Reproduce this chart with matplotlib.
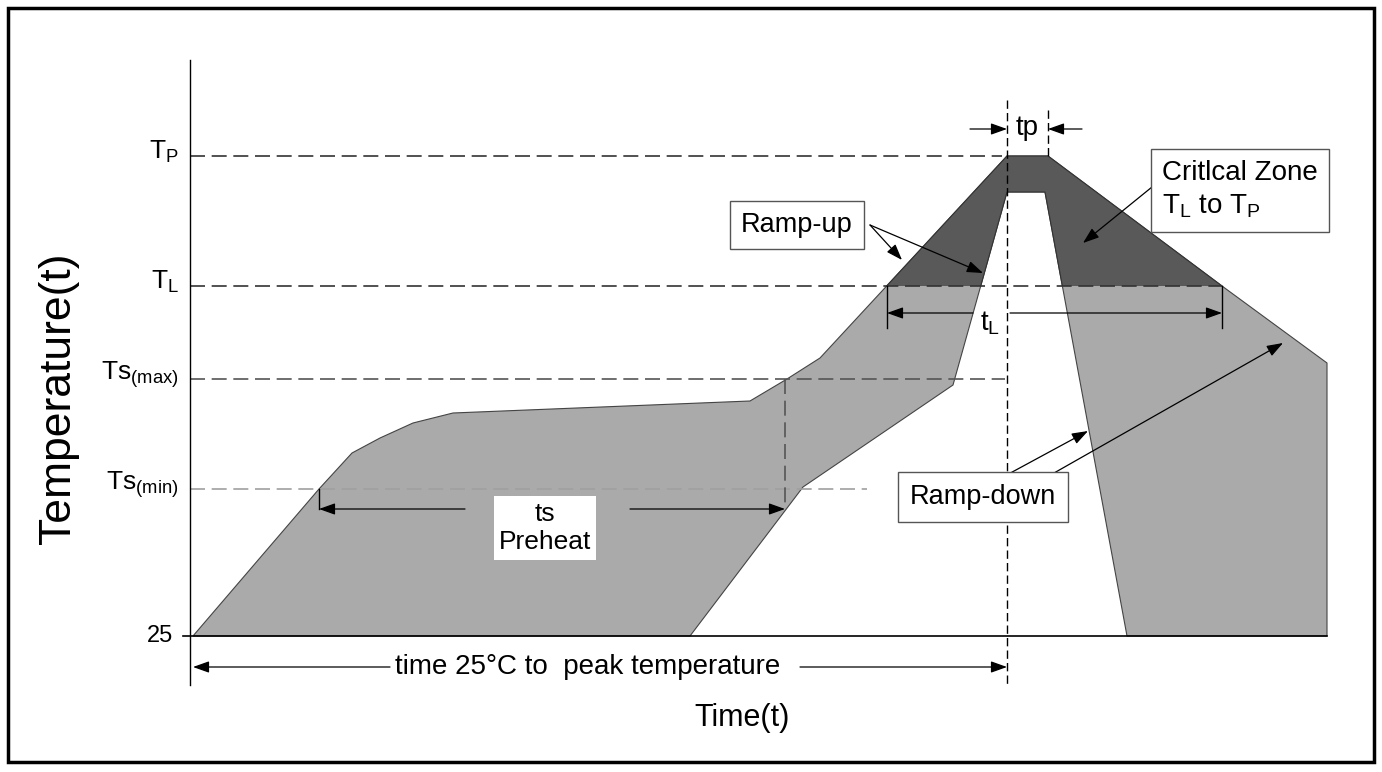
"""
Reflow soldering profile sketch (temperature vs time), schematic units.
"""

import numpy as np
import matplotlib.pyplot as plt
from matplotlib.patches import Polygon, Rectangle

plt.rcParams['font.family'] = ['Liberation Sans', 'DejaVu Sans']
plt.rcParams['mathtext.fontset'] = 'custom'
plt.rcParams['mathtext.rm'] = 'Liberation Sans'
plt.rcParams['mathtext.it'] = 'Liberation Sans:italic'
plt.rcParams['mathtext.sf'] = 'Liberation Sans'

# schematic units: time measured from the temperature axis, temperature above the 25 line
level_names = ['25', 'Ts$_{\\mathrm{(min)}}$', 'Ts$_{\\mathrm{(max)}}$', 'T$_{\\mathrm{L}}$', 'T$_{\\mathrm{P}}$']
level_values = [0, 147, 257, 350, 480]
level_line_end = [None, 677, 815, 1032, 812]
level_line_color = [None, '#a0a0a0', '#555555', '#333333', '#333333']

# outer (hot side) edge of the profile band, left to right
upper_time = [3, 129, 162, 190, 223, 263, 560, 597, 630, 817, 858, 1032, 1137, 1137]
upper_temp = [0, 147, 183, 198, 213, 223, 235, 257, 278, 480, 480, 350, 273, 0]
# inner (cool side) edge, right to left
lower_time = [937, 855, 817, 763, 613, 500]
lower_temp = [0, 444, 444, 251, 149, 0]

light_grey = '#aaaaaa'
dark_grey = '#595959'
dash = (0, (9, 4))

fig = plt.figure(figsize=(13.82, 7.72), dpi=100)
ax = fig.add_axes([0, 0, 1, 1])
ax.set_xlim(-190, 1192)
ax.set_ylim(-136, 636)
ax.axis('off')

# profile band
band = np.column_stack([upper_time + lower_time, upper_temp + lower_temp])
ax.add_patch(Polygon(band, closed=True, fc=light_grey, ec='#444444', lw=0.8, zorder=2))
# critical zone = part of band above T_L
crit = Polygon(band, closed=True, fc=dark_grey, ec='#333333', lw=0.8, zorder=3)
ax.add_patch(crit)
clip = Rectangle((-200, level_values[3]), 1500, 400, transform=ax.transData)
crit.set_clip_path(clip)

# level lines and labels
for name, val, xend, col in zip(level_names, level_values, level_line_end, level_line_color):
    if xend is not None:
        ax.plot([0, xend], [val, val], color=col, lw=1.2, linestyle=dash, zorder=4)
        ax.text(-11, val + 4, name, ha='right', va='center', fontsize=19)
    else:
        ax.text(-17, val, name, ha='right', va='center', fontsize=17)

# axes lines
ax.plot([0, 0], [-49, 576], color='black', lw=1, zorder=5)
ax.plot([-7, 1137], [0, 0], color='black', lw=1.2, zorder=5)

# vertical guide lines
ax.plot([817, 817], [536, -49], color='black', lw=1, linestyle=(0, (6, 3)), zorder=5)
ax.plot([858, 858], [526, 480], color='black', lw=1, linestyle=(0, (6, 3)), zorder=5)
ax.plot([595, 595], [257, 127], color='#555555', lw=1.2, linestyle=dash, zorder=5)
ax.plot([129, 129], [147, 127], color='black', lw=1, zorder=5)
ax.plot([697, 697], [350, 308], color='black', lw=1, zorder=5)
ax.plot([1032, 1032], [350, 308], color='black', lw=1, zorder=5)


def arrow(x0, y0, x1, y1):
    ax.annotate('', xy=(x1, y1), xytext=(x0, y0),
                arrowprops=dict(arrowstyle='-|>,head_length=0.7,head_width=0.25',
                                color='black', lw=0.9, shrinkA=0, shrinkB=0,
                                mutation_scale=14), zorder=6)


# tp
arrow(780, 507, 817, 507)
arrow(892, 507, 858, 507)
ax.text(837, 508, 'tp', ha='center', va='center', fontsize=20)
# tL
arrow(783, 323, 697, 323)
arrow(820, 323, 1032, 323)
ax.text(800, 313, 't$_{\\mathrm{L}}$', ha='center', va='center', fontsize=20)
# ts preheat
arrow(275, 127, 129, 127)
arrow(440, 127, 595, 127)
ax.text(355, 108, 'ts\nPreheat', ha='center', va='center', fontsize=19, linespacing=1.25,
        bbox=dict(boxstyle='square,pad=0.2', fc='white', ec='none'), zorder=7)
# 25C to peak
arrow(200, -31, 3, -31)
arrow(610, -31, 817, -31)
ax.text(398, -31, 'time 25°C to  peak temperature', ha='center', va='center', fontsize=20)

# callouts
box = dict(boxstyle='square,pad=0.4', fc='white', ec='#555555', lw=1)
ax.text(607, 411, 'Ramp-up', ha='center', va='center', fontsize=19.5, bbox=box, zorder=7)
arrow(680, 411, 712, 376)
arrow(680, 411, 793, 363)

ax.text(972, 446, 'Critlcal Zone\nT$_{\\mathrm{L}}$ to T$_{\\mathrm{P}}$', ha='left', va='center',
        fontsize=20, linespacing=1.35,
        bbox=dict(boxstyle='square,pad=0.4', fc='white', ec='#555555', lw=1), zorder=7)
arrow(962, 449, 893, 393)

ax.text(793, 139, 'Ramp-down', ha='center', va='center', fontsize=19.5,
        bbox=dict(boxstyle='square,pad=0.45', fc='white', ec='#555555', lw=1), zorder=7)
arrow(813, 159, 898, 205)
arrow(857, 159, 1093, 293)

# axis titles
ax.text(-132, 238, 'Temperature(t)', rotation=90, ha='center', va='center', fontsize=32)
ax.text(552, -82, 'Time(t)', ha='center', va='center', fontsize=22)

# outer frame
fig.add_artist(Rectangle((8 / 1382, 10 / 772), 1366 / 1382, 754 / 772,
                         transform=fig.transFigure, fill=False, ec='black', lw=2.5))

fig.savefig('out.png', dpi=100)
